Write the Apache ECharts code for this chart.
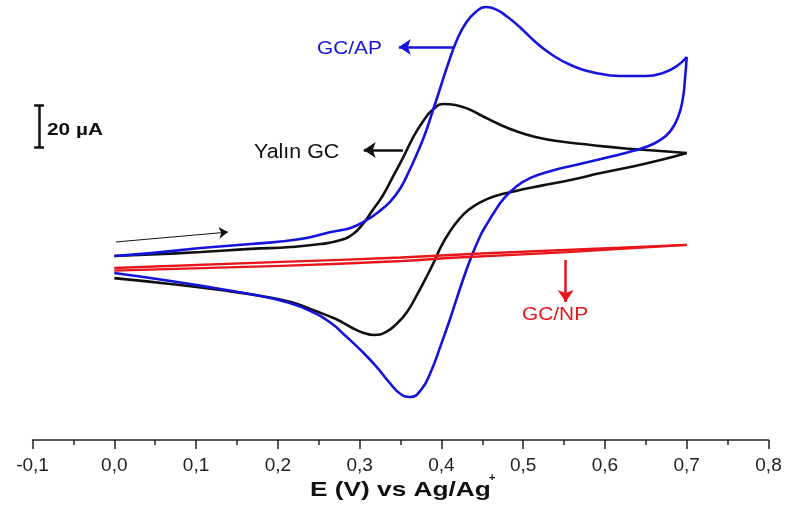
<!DOCTYPE html>
<html>
<head>
<meta charset="utf-8">
<script src="https://cdn.jsdelivr.net/npm/echarts@6/dist/echarts.min.js"></script>
<style>
  html, body { margin: 0; padding: 0; background: #fff; }
  #chart { width: 787px; height: 506px; }
</style>
</head>
<body>
<div id="chart"></div>
<script>
// Cyclic voltammograms: potential E (V vs Ag/Ag+) and current (µA, arbitrary offset)
const xTicks = [-0.1, 0.0, 0.1, 0.2, 0.3, 0.4, 0.5, 0.6, 0.7, 0.8];

// Bare GC electrode ("Yalın GC")
const bareForward = [[0.000,7.6],[0.045,8.3],[0.106,9.5],[0.167,11.0],[0.216,11.9],[0.252,13.3],[0.277,15.2],[0.292,18.1],[0.304,22.9],[0.316,29.5],[0.328,36.2],[0.340,44.8],[0.353,54.3],[0.365,63.8],[0.377,71.4],[0.389,77.1],[0.403,80.0],[0.417,79.5],[0.433,77.6],[0.450,74.3],[0.470,70.5],[0.491,67.1],[0.515,64.3],[0.546,62.1],[0.583,60.5],[0.625,58.8],[0.668,57.6],[0.700,56.7]];
const bareReverse = [[0.700,56.7],[0.668,53.3],[0.631,50.0],[0.595,47.1],[0.558,43.8],[0.521,41.0],[0.491,38.6],[0.466,36.2],[0.448,33.3],[0.433,29.5],[0.421,24.8],[0.410,19.0],[0.400,12.4],[0.391,4.8],[0.381,-2.9],[0.370,-11.0],[0.358,-19.0],[0.345,-24.8],[0.332,-28.6],[0.318,-30.0],[0.305,-29.0],[0.289,-26.2],[0.271,-22.4],[0.246,-18.6],[0.216,-14.3],[0.179,-11.4],[0.130,-8.6],[0.069,-5.7],[0.000,-2.9]];

// GC/AP electrode
const apForward = [[0.000,7.6],[0.045,9.0],[0.106,11.4],[0.167,13.3],[0.228,15.7],[0.265,19.0],[0.289,21.0],[0.307,24.3],[0.323,28.6],[0.338,33.8],[0.350,40.0],[0.360,47.6],[0.370,56.2],[0.380,65.7],[0.389,76.2],[0.399,88.1],[0.409,100.0],[0.419,110.5],[0.430,118.6],[0.442,123.8],[0.454,126.2],[0.466,125.2],[0.481,121.4],[0.497,116.2],[0.515,109.5],[0.534,103.8],[0.558,98.6],[0.589,94.8],[0.619,93.3],[0.650,93.3],[0.671,94.8],[0.688,98.1],[0.700,102.4]];
const apReverse = [[0.700,102.4],[0.698,92.4],[0.695,81.9],[0.689,73.3],[0.680,67.1],[0.668,62.9],[0.650,59.5],[0.625,56.7],[0.595,53.8],[0.564,51.0],[0.534,48.1],[0.509,44.8],[0.491,40.5],[0.476,34.8],[0.464,28.1],[0.455,22.4],[0.448,17.6],[0.436,6.7],[0.423,-7.6],[0.411,-21.9],[0.399,-35.2],[0.387,-47.6],[0.375,-56.2],[0.362,-59.5],[0.350,-58.1],[0.336,-52.4],[0.320,-44.8],[0.301,-37.1],[0.283,-30.5],[0.265,-24.3],[0.240,-18.6],[0.210,-14.3],[0.173,-11.0],[0.130,-8.1],[0.069,-4.3],[0.000,-0.5]];

// GC/NP electrode
const npForward = [[0.000,1.9],[0.204,4.8],[0.350,6.9],[0.448,8.8],[0.700,12.9]];
const npReverse = [[0.700,12.9],[0.554,9.5],[0.420,6.9],[0.350,5.2],[0.204,2.9],[0.000,0.7]];

// Scale bar (20 µA) and annotation arrows, in data units
const scaleBar = { e: -0.092, from: 59.5, to: 79.5 };
const scanArrow = [[0.002, 14.3], [0.139, 19.0]];
const apArrow = [[0.415, 107.1], [0.348, 107.1]];
const bareArrow = [[0.353, 58.1], [0.305, 58.1]];
const npArrow = [[0.552, 5.7], [0.552, -14.3]];

const BLUE = '#1414dc';
const BLACK = '#111111';
const RED = '#e8151b';

function curve(name, data, color, width) {
  return {
    name, type: 'line', data, smooth: 0.5, showSymbol: false, silent: true,
    lineStyle: { color, width }, itemStyle: { color }
  };
}
function arrow(pts, color, width, size) {
  return {
    type: 'line', data: [], silent: true,
    markLine: {
      silent: true, symbol: ['none', 'arrow'], symbolSize: size, animation: false,
      label: { show: false }, emphasis: { disabled: true },
      lineStyle: { color, width, type: 'solid' },
      data: [[{ coord: pts[0] }, { coord: pts[1] }]]
    }
  };
}

const chart = echarts.init(document.getElementById('chart'));
const capHalf = 0.006;
chart.setOption({
  animation: false,
  grid: { left: 32.5, right: 18.5, top: 0, bottom: 66 },
  xAxis: {
    type: 'value', min: xTicks[0], max: xTicks[xTicks.length - 1], interval: 0.1,
    axisLine: { show: true, onZero: false, lineStyle: { color: '#222', width: 1.5 } },
    axisTick: { show: true, inside: false, length: 9, lineStyle: { color: '#222', width: 1.5 } },
    minorTick: { show: true, splitNumber: 2, length: 5, lineStyle: { color: '#222', width: 1.5 } },
    splitLine: { show: false },
    axisLabel: {
      margin: 16, fontSize: 19, color: '#222', fontFamily: 'Liberation Sans, Arial, sans-serif',
      formatter: v => v.toFixed(1).replace('.', ',')
    }
  },
  yAxis: { type: 'value', min: -80, max: 129.52, show: false, splitLine: { show: false } },
  series: [
    curve('Yalın GC', bareForward, BLACK, 2.6),
    curve('Yalın GC', bareReverse, BLACK, 2.6),
    curve('GC/AP', apForward, BLUE, 2.6),
    curve('GC/AP', apReverse, BLUE, 2.6),
    curve('GC/NP', npForward, RED, 2.3),
    curve('GC/NP', npReverse, RED, 2.3),
    arrow(scanArrow, BLACK, 1, 9),
    arrow(apArrow, BLUE, 2.5, 12),
    arrow(bareArrow, BLACK, 2.5, 12),
    arrow(npArrow, RED, 2.5, 12),
    {
      type: 'line', data: [], silent: true,
      markLine: {
        silent: true, symbol: ['none', 'none'], animation: false, label: { show: false },
        lineStyle: { color: BLACK, width: 2.5, type: 'solid' },
        data: [
          [{ coord: [scaleBar.e, scaleBar.from] }, { coord: [scaleBar.e, scaleBar.to] }],
          [{ coord: [scaleBar.e - capHalf, scaleBar.from] }, { coord: [scaleBar.e + capHalf, scaleBar.from] }],
          [{ coord: [scaleBar.e - capHalf, scaleBar.to] }, { coord: [scaleBar.e + capHalf, scaleBar.to] }]
        ]
      }
    }
  ],
  graphic: [
    { type: 'text', x: 317, y: 49, scaleX: 1.16, silent: true,
      style: { text: 'GC/AP', fill: BLUE, font: '18px "Liberation Sans", Arial, sans-serif', textVerticalAlign: 'middle' } },
    { type: 'text', x: 254, y: 152.5, scaleX: 1.07, silent: true,
      style: { text: 'Yalın GC', fill: BLACK, font: '20px "Liberation Sans", Arial, sans-serif', textVerticalAlign: 'middle' } },
    { type: 'text', x: 522, y: 315, scaleX: 1.16, silent: true,
      style: { text: 'GC/NP', fill: RED, font: '18px "Liberation Sans", Arial, sans-serif', textVerticalAlign: 'middle' } },
    { type: 'text', x: 47, y: 130.5, scaleX: 1.3, silent: true,
      style: { text: '20 µA', fill: BLACK, font: 'bold 16px "Liberation Sans", Arial, sans-serif', textVerticalAlign: 'middle' } },
    { type: 'text', x: 310, y: 490.5, scaleX: 1.25, silent: true,
      style: { text: 'E (V) vs Ag/Ag', fill: BLACK, font: 'bold 21px "Liberation Sans", Arial, sans-serif', textVerticalAlign: 'middle' } },
    { type: 'text', x: 489, y: 478, silent: true,
      style: { text: '+', fill: BLACK, font: 'bold 11px "Liberation Sans", Arial, sans-serif', textVerticalAlign: 'middle' } }
  ]
});
</script>
</body>
</html>
